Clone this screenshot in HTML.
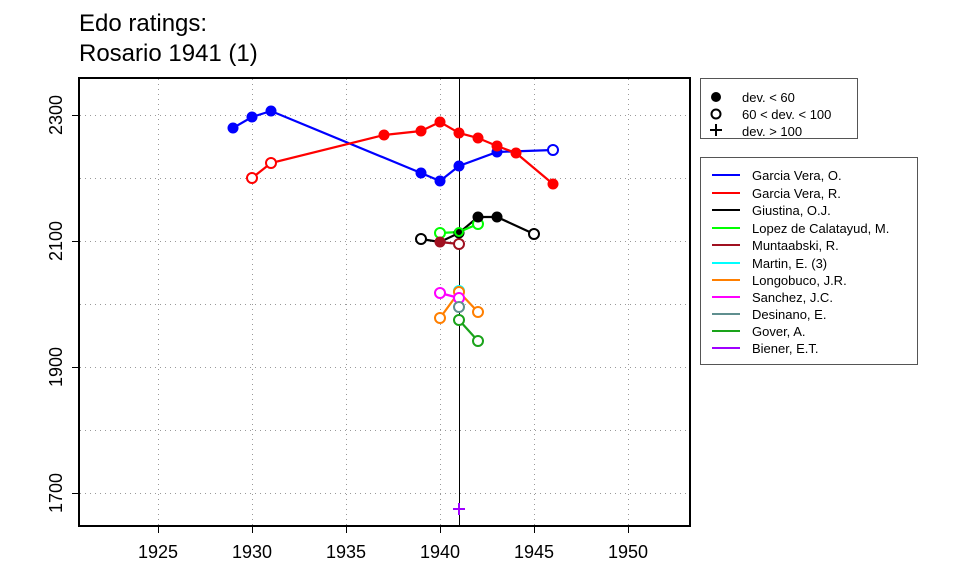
<!DOCTYPE html><html><head><style>body{margin:0;background:#fff}svg{display:block}text{font-family:"Liberation Sans",sans-serif}</style></head><body>
<svg width="960" height="576" xmlns="http://www.w3.org/2000/svg">
<text x="79" y="31" font-size="24">Edo ratings:</text>
<text x="79" y="61" font-size="24">Rosario 1941 (1)</text>
<g stroke="#999" stroke-width="1" stroke-dasharray="1,4">
<line x1="158.5" y1="79" x2="158.5" y2="525"/><line x1="252.5" y1="79" x2="252.5" y2="525"/><line x1="346.5" y1="79" x2="346.5" y2="525"/><line x1="440.5" y1="79" x2="440.5" y2="525"/><line x1="534.5" y1="79" x2="534.5" y2="525"/><line x1="628.5" y1="79" x2="628.5" y2="525"/>
<line x1="80" y1="115.5" x2="689" y2="115.5"/><line x1="80" y1="178.5" x2="689" y2="178.5"/><line x1="80" y1="241.5" x2="689" y2="241.5"/><line x1="80" y1="304.5" x2="689" y2="304.5"/><line x1="80" y1="367.5" x2="689" y2="367.5"/><line x1="80" y1="430.5" x2="689" y2="430.5"/><line x1="80" y1="493.5" x2="689" y2="493.5"/>
</g>
<line x1="459.5" y1="78" x2="459.5" y2="526" stroke="#000" stroke-width="1"/>
<rect x="79" y="78" width="611" height="448" fill="none" stroke="#000" stroke-width="2"/>
<g stroke="#000" stroke-width="1"><line x1="72" y1="115.5" x2="79" y2="115.5"/><line x1="72" y1="241.5" x2="79" y2="241.5"/><line x1="72" y1="367.5" x2="79" y2="367.5"/><line x1="72" y1="493.5" x2="79" y2="493.5"/>
<line x1="158.5" y1="526" x2="158.5" y2="533"/><line x1="252.5" y1="526" x2="252.5" y2="533"/><line x1="346.5" y1="526" x2="346.5" y2="533"/><line x1="440.5" y1="526" x2="440.5" y2="533"/><line x1="534.5" y1="526" x2="534.5" y2="533"/><line x1="628.5" y1="526" x2="628.5" y2="533"/></g>
<g font-size="18" text-anchor="middle">
<text x="158" y="558">1925</text><text x="252" y="558">1930</text><text x="346" y="558">1935</text><text x="440" y="558">1940</text><text x="534" y="558">1945</text><text x="628" y="558">1950</text>
<text transform="translate(62,115) rotate(-90)">2300</text><text transform="translate(62,241) rotate(-90)">2100</text><text transform="translate(62,367) rotate(-90)">1900</text><text transform="translate(62,493) rotate(-90)">1700</text>
</g>
<g stroke-width="2.2" fill="none">
<polyline stroke="#0000ff" points="233,128 252,117 271,111 421,173 440,181 459,166 497,152 553,150"/>
<polyline stroke="#ff0000" points="252,178 271,163 384,135 421,131 440,122 459,133 478,138 497,146 516,153 553,184"/>
<polyline stroke="#000" points="421,239 440,242 459,233 478,217 497,217 534,234"/>
<polyline stroke="#00ff00" points="440,233 459,232 478,224"/>
<polyline stroke="#a01020" points="440,242 459,244"/>
<polyline stroke="#ff7f00" points="440,318 459,292 478,312"/>
<polyline stroke="#ff00ff" points="440,293 459,298"/>
<polyline stroke="#1aa31a" points="459,320 478,341"/>
</g>
<g stroke-width="2" fill="#fff">
<circle cx="553" cy="150" r="5" stroke="#0000ff"/>
<circle cx="252" cy="178" r="5" stroke="#ff0000"/><circle cx="271" cy="163" r="5" stroke="#ff0000"/>
<circle cx="421" cy="239" r="5" stroke="#000"/><circle cx="534" cy="234" r="5" stroke="#000"/>
<circle cx="440" cy="233" r="5" stroke="#00ff00"/><circle cx="478" cy="224" r="5" stroke="#00ff00"/>
<circle cx="459" cy="244" r="5" stroke="#a01020"/>
<circle cx="459" cy="291" r="5" stroke="#00ffff"/>
<circle cx="440" cy="318" r="5" stroke="#ff7f00"/><circle cx="459" cy="292" r="5" stroke="#ff7f00"/><circle cx="478" cy="312" r="5" stroke="#ff7f00"/>
<circle cx="440" cy="293" r="5" stroke="#ff00ff"/><circle cx="459" cy="298" r="5" stroke="#ff00ff"/>
<circle cx="459" cy="307" r="5" stroke="#5f8f8f"/>
<circle cx="459" cy="320" r="5" stroke="#1aa31a"/><circle cx="478" cy="341" r="5" stroke="#1aa31a"/>
</g>
<g fill="#0000ff"><circle cx="233" cy="128" r="5.5"/><circle cx="252" cy="117" r="5.5"/><circle cx="271" cy="111" r="5.5"/><circle cx="421" cy="173" r="5.5"/><circle cx="440" cy="181" r="5.5"/><circle cx="459" cy="166" r="5.5"/><circle cx="497" cy="152" r="5.5"/></g>
<g fill="#ff0000"><circle cx="384" cy="135" r="5.5"/><circle cx="421" cy="131" r="5.5"/><circle cx="440" cy="122" r="5.5"/><circle cx="459" cy="133" r="5.5"/><circle cx="478" cy="138" r="5.5"/><circle cx="497" cy="146" r="5.5"/><circle cx="516" cy="153" r="5.5"/><circle cx="553" cy="184" r="5.5"/></g>
<g fill="#000"><circle cx="459" cy="233" r="5.5"/><circle cx="478" cy="217" r="5.5"/><circle cx="497" cy="217" r="5.5"/></g>
<circle cx="440" cy="242" r="5.5" fill="#a01020"/>
<circle cx="459" cy="232" r="4" fill="none" stroke="#00ff00" stroke-width="2"/>
<g stroke="#a000ff" stroke-width="2"><line x1="453" y1="509" x2="465" y2="509"/><line x1="459" y1="503" x2="459" y2="515"/></g>
<rect x="700.5" y="78.5" width="157" height="60" fill="#fff" stroke="#555"/>
<circle cx="716" cy="97" r="5" fill="#000"/><circle cx="716" cy="114" r="4.5" fill="none" stroke="#000" stroke-width="2"/>
<g stroke="#000" stroke-width="2"><line x1="710" y1="130" x2="722" y2="130"/><line x1="716" y1="124" x2="716" y2="136"/></g>
<g font-size="13"><text x="742" y="102">dev. &lt; 60</text><text x="742" y="119">60 &lt; dev. &lt; 100</text><text x="742" y="136">dev. &gt; 100</text></g>
<rect x="700.5" y="157.5" width="217" height="207" fill="#fff" stroke="#555"/>
<g stroke-width="2">
<line x1="712" y1="175" x2="740" y2="175" stroke="#0000ff"/>
<line x1="712" y1="193" x2="740" y2="193" stroke="#ff0000"/>
<line x1="712" y1="210" x2="740" y2="210" stroke="#000"/>
<line x1="712" y1="228" x2="740" y2="228" stroke="#00ff00"/>
<line x1="712" y1="245" x2="740" y2="245" stroke="#a01020"/>
<line x1="712" y1="263" x2="740" y2="263" stroke="#00ffff"/>
<line x1="712" y1="280" x2="740" y2="280" stroke="#ff7f00"/>
<line x1="712" y1="297" x2="740" y2="297" stroke="#ff00ff"/>
<line x1="712" y1="314" x2="740" y2="314" stroke="#5f8f8f"/>
<line x1="712" y1="331" x2="740" y2="331" stroke="#1aa31a"/>
<line x1="712" y1="348" x2="740" y2="348" stroke="#a000ff"/>
</g>
<g font-size="13">
<text x="752" y="180">Garcia Vera, O.</text><text x="752" y="198">Garcia Vera, R.</text><text x="752" y="215">Giustina, O.J.</text><text x="752" y="233">Lopez de Calatayud, M.</text><text x="752" y="250">Muntaabski, R.</text><text x="752" y="268">Martin, E. (3)</text><text x="752" y="285">Longobuco, J.R.</text><text x="752" y="302">Sanchez, J.C.</text><text x="752" y="319">Desinano, E.</text><text x="752" y="336">Gover, A.</text><text x="752" y="353">Biener, E.T.</text>
</g>
</svg></body></html>
